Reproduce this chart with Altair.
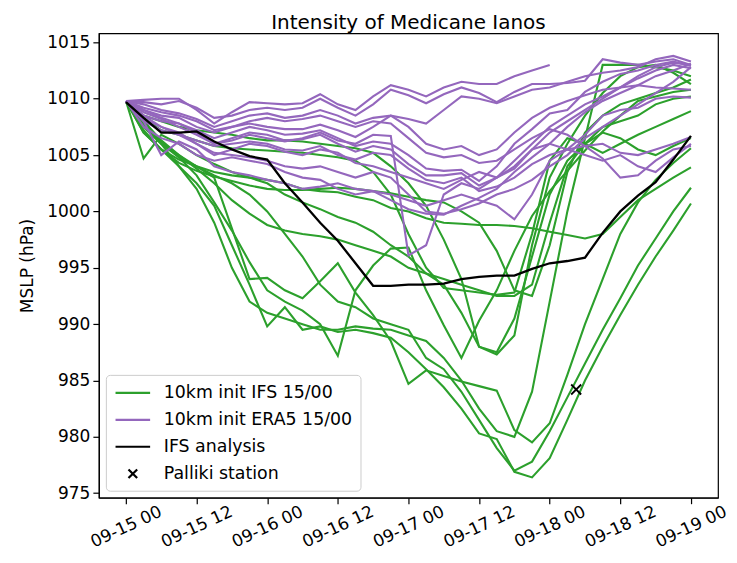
import altair as alt
import pandas as pd

# ---------------- data (3-hourly, hours since 09-15 00) ----------------
hours = list(range(0, 97, 3))
tick_hours = [0, 12, 24, 36, 48, 60, 72, 84, 96]
tick_labels = ["09-15 00", "09-15 12", "09-16 00", "09-16 12", "09-17 00",
               "09-17 12", "09-18 00", "09-18 12", "09-19 00"]
y_ticks = [975, 980, 985, 990, 995, 1000, 1005, 1010, 1015]

labels = ["10km init IFS 15/00", "10km init ERA5 15/00", "IFS analysis", "Palliki station"]
colors = ["#2ca02c", "#9467bd", "#000000", "#000000"]

ifs_pa = [1009.8, 1007.5, 1006.0, 1004.8, 1004.0, 1003.0, 998.5, 994.0, 994.1, 993.0, 992.3, 993.8, 995.4, 992.8, 990.8, 988.5, 984.7, 985.9, 985.4, 984.9, 984.5, 984.1, 980.6, 979.5, 981.2, 985.5, 990.0, 994.0, 998.0, 1000.8, 1002.8, 1004.3, 1005.6]
ifs_g2 = [1009.8, 1007.0, 1005.5, 1004.0, 1002.5, 1000.5, 997.0, 993.5, 989.8, 991.5, 989.5, 989.8, 989.3, 989.5, 989.2, 988.8, 987.5, 986.0, 984.4, 982.5, 980.3, 979.8, 976.9, 976.4, 978.1, 981.5, 985.0, 988.0, 990.8, 993.5, 996.0, 998.3, 1000.7]
ifs_g3 = [1009.8, 1007.5, 1006.0, 1005.0, 1004.0, 1003.2, 1002.5, 1001.5, 1000.0, 998.0, 996.0, 993.5, 992.0, 991.5, 990.5, 990.0, 989.5, 987.0, 986.0, 984.0, 981.5, 979.0, 977.0, 977.8, 980.5, 983.5, 986.5, 989.5, 992.3, 995.2, 997.6, 1000.0, 1002.1]
ifs_g4 = [1009.8, 1007.8, 1006.0, 1004.0, 1002.0, 999.0, 995.0, 992.0, 991.0, 990.5, 990.0, 989.5, 989.5, 989.8, 989.6, 989.5, 989.0, 988.5, 987.0, 985.0, 982.5, 980.5, 980.0, 984.0, 992.0, 1000.0, 1006.5, 1013.0, 1013.0, 1013.0, 1012.8, 1012.5, 1012.0]
ifs_v1 = [1009.8, 1008.0, 1006.2, 1004.8, 1003.2, 1000.8, 998.3, 995.5, 993.0, 992.0, 991.2, 990.0, 987.2, 993.0, 995.2, 996.7, 996.8, 993.0, 989.9, 987.0, 990.3, 993.0, 996.5, 999.6, 1001.8, 1003.6, 1005.4, 1007.1, 1008.5, 1009.8, 1010.2, 1010.6, 1010.8]
ifs_v2 = [1009.8, 1008.5, 1008.0, 1007.5, 1007.2, 1007.0, 1006.8, 1006.5, 1006.3, 1006.3, 1006.2, 1006.0, 1005.8, 1005.6, 1005.2, 1004.0, 1002.5, 1000.5, 997.5, 994.0, 988.0, 987.3, 989.0, 997.0, 1003.0, 1006.0, 1008.5, 1010.5, 1012.0, 1012.8, 1013.0, 1012.3, 1011.3]
ifs_v3 = [1009.8, 1008.3, 1007.2, 1006.8, 1006.3, 1005.8, 1005.6, 1005.5, 1005.4, 1005.3, 1005.2, 1005.0, 1004.8, 1004.5, 1003.5, 1001.5, 998.0, 995.0, 993.2, 993.0, 992.8, 992.6, 992.8, 998.0, 1004.5, 1006.5, 1006.0, 1005.2, 1006.0, 1006.8, 1007.5, 1008.2, 1008.9]
ifs_t1 = [1009.8, 1007.0, 1005.5, 1004.6, 1004.0, 1003.5, 1003.2, 1003.0, 1002.8, 1002.5, 1002.0, 1001.8, 1001.7, 1001.3, 1001.0, 1000.3, 1000.0, 999.4, 999.0, 998.9, 998.8, 998.8, 998.7, 998.5, 998.2, 997.9, 997.6, 998.0, 999.5, 1001.0, 1002.0, 1003.0, 1003.9]
ifs_t2 = [1009.8, 1007.2, 1005.5, 1004.3, 1003.6, 1003.1, 1002.7, 1002.3, 1002.0, 1001.9, 1001.9, 1002.0, 1002.1, 1002.0, 1001.8, 1001.6, 1001.3, 1001.0, 1000.8, 1000.0, 999.0, 996.5, 993.0, 992.5, 997.0, 1003.5, 1007.0, 1008.5, 1009.5, 1010.0, 1010.5, 1011.0, 1011.7]
ifs_g7 = [1009.8, 1008.0, 1006.3, 1005.0, 1003.8, 1002.5, 1001.0, 999.8, 998.8, 998.3, 998.0, 997.8, 997.5, 997.0, 996.5, 996.0, 995.0, 994.5, 994.0, 993.5, 993.0, 992.5, 992.5, 993.5, 999.0, 1004.0, 1006.0, 1007.5, 1008.0, 1008.5, 1009.5, 1010.0, 1010.2]
ifs_g8 = [1009.8, 1004.7, 1006.8, 1006.0, 1005.0, 1004.2, 1003.5, 1003.0, 1002.5, 1001.5, 1000.8, 1000.2, 999.5, 999.0, 998.2, 997.0, 996.0, 994.5, 993.5, 991.0, 988.0, 987.5, 990.5, 996.0, 1001.5, 1004.5, 1006.0, 1007.0, 1006.5, 1005.5, 1005.0, 1005.8, 1006.5]
ifs_runs = [ifs_t1, ifs_t2, ifs_g7, ifs_g8, ifs_v3, ifs_v2, ifs_v1, ifs_g4, ifs_g3, ifs_g2, ifs_pa]

N = None
era_p1 = [1009.8, 1009.9, 1010.0, 1010.0, 1009.0, 1007.8, 1008.8, 1009.7, 1009.6, 1009.5, 1009.6, 1010.4, 1009.5, 1009.0, 1010.2, 1011.2, 1010.8, 1010.2, 1011.0, 1011.5, 1011.3, 1011.3, 1012.0, 1012.5, 1013.0, N, N, N, N, N, N, N, N]
era_p2 = [1009.8, 1009.7, 1009.5, 1009.8, 1009.2, 1008.3, 1008.5, 1009.0, 1009.2, 1009.0, 1009.2, 1010.0, 1009.2, 1008.5, 1009.5, 1010.8, 1010.3, 1009.6, 1010.4, 1011.0, 1010.5, 1009.7, 1010.6, 1011.3, 1011.3, 1011.4, 1011.6, 1013.5, 1013.2, 1013.0, 1013.3, 1013.5, 1013.0]
era_p3 = [1009.8, 1009.0, 1008.5, 1008.3, 1007.5, 1007.0, 1007.5, 1007.8, 1007.5, 1007.3, 1007.3, 1007.7, 1007.2, 1006.6, 1007.5, 1008.5, 1008.2, 1007.8, 1009.0, 1010.2, 1010.0, 1009.6, 1010.2, 1010.8, 1011.0, 1011.5, 1012.0, 1012.3, 1012.5, 1012.8, 1013.5, 1013.8, 1013.3]
era_p4 = [1009.8, 1008.5, 1008.0, 1007.8, 1007.2, 1006.5, 1007.0, 1007.5, 1007.2, 1006.8, 1006.9, 1007.2, 1006.5, 1005.8, 1006.2, 1006.0, 1005.0, 1003.8, 1003.6, 1003.7, 1002.7, 1004.0, 1006.0, 1007.3, 1008.7, 1009.0, 1010.6, 1011.5, 1012.2, 1012.5, 1013.0, 1013.3, 1012.9]
era_p5 = [1009.8, 1008.8, 1008.2, 1007.5, 1006.8, 1006.0, 1006.5, 1007.0, 1006.8, 1006.3, 1006.4, 1006.8, 1006.0, 1005.3, 1005.8, 1005.5, 1004.2, 1003.2, 1003.2, 1003.4, 1002.3, 1003.0, 1004.5, 1006.0, 1007.5, 1008.5, 1009.5, 1010.2, 1011.0, 1011.8, 1012.5, 1013.0, 1012.7]
era_p6 = [1009.8, 1008.0, 1007.2, 1006.8, 1006.3, 1005.8, 1006.0, 1006.2, 1006.0, 1005.5, 1005.4, 1005.8, 1005.0, 1004.6, 1005.2, 1005.0, 1003.8, 1002.8, 1002.5, 1003.0, 1001.8, 1002.2, 1003.0, 1004.2, 1005.0, 1005.5, 1006.8, 1008.5, 1009.0, 1009.2, 1010.0, 1010.2, 1010.1]
era_p7 = [1009.8, 1009.0, 1008.3, 1007.8, 1007.0, 1006.0, 1006.3, 1006.8, 1006.5, 1006.2, 1006.5, 1007.0, 1006.3, 1006.0, 1006.8, 1006.7, 996.1, 997.0, 1001.5, 1002.5, 1002.0, 1003.0, 1004.0, 1005.5, 1006.0, 1005.5, 1005.8, 1006.0, 1005.2, 1005.0, 1005.5, 1006.0, 1006.6]
era_p8 = [1009.8, 1008.2, 1007.5, 1006.8, 1006.0, 1005.2, 1005.0, 1004.8, 1004.5, 1004.0, 1003.8, 1004.0, 1003.5, 1003.0, 1003.5, 1003.0, 1001.5, 1000.0, 999.8, 1000.2, 1000.7, 1001.5, 1002.0, 1002.8, 1004.0, 1005.0, 1006.5, 1007.5, 1008.5, 1009.5, 1010.5, 1011.5, 1012.8]
era_p9 = [1009.8, 1008.0, 1005.0, 1006.2, 1005.5, 1004.0, 1003.5, 1003.2, 1002.8, 1002.5, 1002.0, 1002.2, 1002.5, 1002.0, 1001.8, 1001.5, 1001.0, 1000.5, 1001.0, 1001.5, 1001.0, 1000.5, 999.3, 1001.5, 1004.5, 1005.5, 1005.0, 1004.5, 1005.0, 1004.0, 1003.5, 1004.8, 1006.0]
era_p10 = [1009.8, 1009.2, 1008.8, 1008.5, 1008.0, 1007.2, 1007.5, 1008.0, 1008.3, 1008.0, 1008.2, 1008.5, 1008.0, 1007.5, 1008.0, 1007.8, 1006.5, 1005.2, 1004.8, 1005.0, 1004.3, 1004.5, 1005.5, 1006.5, 1007.3, 1006.8, 1005.8, 1004.7, 1003.0, 1003.2, 1004.5, 1005.5, 1005.8]
era_p11 = [1009.8, 1009.5, 1009.0, 1008.7, 1008.2, 1007.5, 1008.0, 1008.5, 1008.7, 1008.3, 1008.5, 1009.0, 1008.5, 1007.8, 1008.3, 1008.5, 1007.5, 1006.0, 1005.5, 1005.8, 1005.0, 1005.5, 1007.0, 1008.3, 1009.2, 1009.8, 1010.3, 1010.8, 1011.0, 1011.2, 1011.0, 1010.9, 1010.8]
era_p12 = [1009.8, 1007.5, 1006.5, 1006.0, 1005.0, 1004.5, 1004.8, 1004.5, 1004.2, 1003.5, 1003.0, 1002.8, 1002.0, 1001.5, 1001.8, 1001.0, 1000.2, 999.8, 999.7, 1000.5, 1001.2, 1002.0, 1003.5, 1004.8, 1006.0, 1007.5, 1008.8, 1009.8, 1010.5, 1011.2, 1012.0, 1012.5, 1013.1]
era_p13 = [1009.8, 1008.5, 1007.5, 1007.0, 1006.0, 1005.0, 1005.5, 1006.0, 1005.8, 1005.3, 1005.0, 1005.5, 1005.2, 1004.3, 1004.0, 1003.5, 1003.0, 1002.5, 1002.0, 1002.8, 1003.5, 1003.0, 1003.8, 1005.5, 1007.0, 1008.0, 1009.0, 1010.0, 1011.0, 1012.0, 1012.8, 1013.2, 1013.0]
era_runs = [era_p1, era_p2, era_p3, era_p4, era_p5, era_p6, era_p7, era_p8,
            era_p9, era_p10, era_p11, era_p12, era_p13]

analysis = [1009.7, 1008.3, 1007.0, 1007.0, 1007.1, 1006.2, 1005.5, 1004.9, 1004.6, 1002.5, 1000.8, 999.0, 997.4, 995.4, 993.4, 993.4, 993.5, 993.5, 993.6, 994.0, 994.2, 994.3, 994.3, 994.9, 995.4, 995.6, 995.9, 998.1, 1000.0, 1001.4, 1002.6, 1004.6, 1006.7]

palliki_hour = [76.5]
palliki_mslp = [984.2]


def runs_frame(runs, label, prefix):
    rows = []
    for i, run in enumerate(runs):
        if len(run) != len(hours):
            raise ValueError(f"{prefix}{i} has {len(run)} values")
        for h, v in zip(hours, run):
            if v is not None:
                rows.append({"hour": h, "mslp": v, "run": f"{prefix}{i}", "label": label})
    return pd.DataFrame(rows)


df_ifs = runs_frame(ifs_runs, labels[0], "ifs")
df_era = runs_frame(era_runs, labels[1], "era")
df_an = runs_frame([analysis], labels[2], "an")
df_st = pd.DataFrame({"hour": palliki_hour, "mslp": palliki_mslp, "label": [labels[3]] * len(palliki_hour)})

# ---------------- encodings ----------------
label_expr = "[" + ",".join(f"'{t}'" for t in tick_labels) + "][round(datum.value / 12)]"

FS = 17

x_enc = alt.X("hour:Q",
              scale=alt.Scale(domain=[-4.6, 100.6], nice=False, zero=False),
              axis=alt.Axis(values=tick_hours, labelExpr=label_expr, labelAngle=335,
                            labelAlign="center", labelBaseline="middle",
                            labelOverlap=False, labelPadding=23, title=None))
y_enc = alt.Y("mslp:Q",
              scale=alt.Scale(domain=[974.6, 1015.8], nice=False, zero=False),
              axis=alt.Axis(values=y_ticks, format="d", title="MSLP (hPa)",
                            labelOverlap=False, labelPadding=3, titlePadding=10))

line_path = "M-2,0H2"
x_path = "M-0.5,-0.5L0.5,0.5M-0.5,0.5L0.5,-0.5"

legend = alt.Legend(title=None, orient="bottom-left", offset=7, fillColor="white",
                    strokeColor="#cccccc", cornerRadius=4, padding=8,
                    labelFontSize=17.4, labelFont="DejaVu Sans", labelColor="black",
                    labelLimit=400,
                    symbolSize=300, symbolStrokeWidth=2.2, rowPadding=8,
                    symbolOffset=9, labelOffset=21)

color_enc = alt.Color("label:N", scale=alt.Scale(domain=labels, range=colors), legend=legend)
shape_enc = alt.Shape("label:N", scale=alt.Scale(domain=labels, range=[line_path] * 3 + [x_path]),
                      legend=legend)

ifs_layer = alt.Chart(df_ifs).mark_line(strokeWidth=2.1).encode(
    x=x_enc, y=y_enc, color=color_enc, detail="run:N")
era_layer = alt.Chart(df_era).mark_line(strokeWidth=2.1).encode(
    x=x_enc, y=y_enc, color=color_enc, detail="run:N")
an_layer = alt.Chart(df_an).mark_line(strokeWidth=2.3).encode(
    x=x_enc, y=y_enc, color=color_enc)
st_layer = alt.Chart(df_st).mark_point(filled=False, strokeWidth=1.8, size=400, opacity=1).encode(
    x=x_enc, y=y_enc, color=color_enc, shape=shape_enc)

chart = alt.layer(ifs_layer, era_layer, an_layer, st_layer).properties(
    width=620, height=465,
    padding={"left": 10, "top": 5, "right": 0, "bottom": 0},
    title=alt.TitleParams("Intensity of Medicane Ianos", fontSize=20, fontWeight="normal",
                          font="DejaVu Sans", color="black", offset=0, anchor="middle"),
).configure_view(
    stroke="black", strokeWidth=1.2
).configure_axis(
    grid=False, domainColor="black", tickColor="black", labelColor="black",
    titleColor="black", labelFont="DejaVu Sans", titleFont="DejaVu Sans",
    labelFontSize=FS, titleFontSize=FS, titleFontWeight="normal",
    tickSize=6, domainWidth=1.2, tickWidth=1.2
)

chart.save("out.html", embed_options={"renderer": "svg", "actions": False})
